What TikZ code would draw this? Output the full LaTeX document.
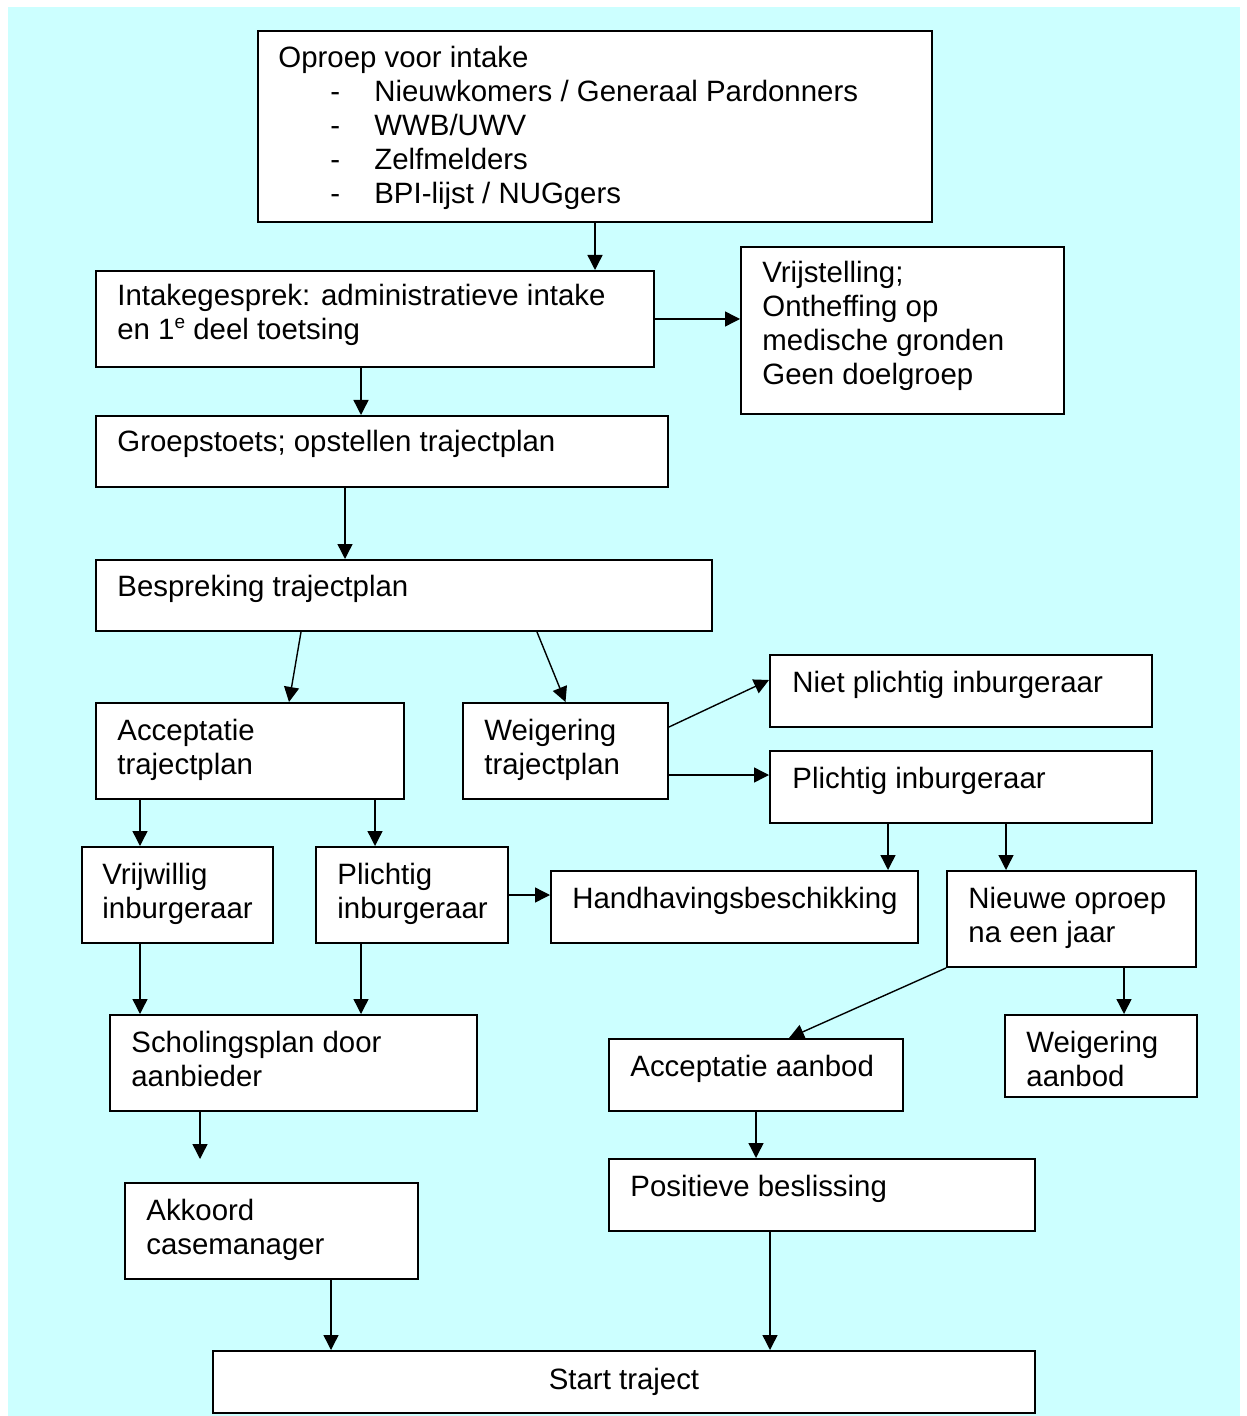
\documentclass[tikz,border=0pt]{standalone}
\usepackage{fontspec}
\setmainfont{Liberation Sans}
\usetikzlibrary{arrows.meta,fit}
\definecolor{sheet}{RGB}{204,255,255}
% multi-line text whose reference point is the baseline of the first line
\newcommand\ml[1]{\vtop{\baselineskip=17pt\lineskiplimit=-10pt #1}}
% an indented list line with a dash
\newcommand\dashline[1]{\hbox{\hspace*{26pt}\makebox[22pt][l]{-}#1}}
% raised ordinal suffix
\newcommand\ord[1]{\raisebox{5.5pt}{\fontsize{9.5}{10}\selectfont #1}}
\begin{document}
\begin{tikzpicture}[x=0.5pt,y=-0.5pt,
  stepbox/.style={draw=black,line width=1pt,fill=white,inner sep=0pt},
  txt/.style={anchor=base west,inner sep=0pt,font=\fontsize{14.7}{17}\selectfont},
  arr/.style={line width=0.7pt,-{Triangle[length=7.5pt,width=7.5pt]}}]
% page and coloured sheet
\useasboundingbox[fill=white] (0,0) rectangle (1246,1416);
\fill[sheet] (8,7) rectangle (1240,1416);

% boxes
\node[stepbox,fit={(258,31) (932,222)}] (oproep) {};
\node[stepbox,fit={(96,271) (654,367)}] (intake) {};
\node[stepbox,fit={(741,247) (1064,414)}] (vrij) {};
\node[stepbox,fit={(96,416) (668,487)}] (groeps) {};
\node[stepbox,fit={(96,560) (712,631)}] (bespr) {};
\node[stepbox,fit={(96,703) (404,799)}] (accT) {};
\node[stepbox,fit={(463,703) (668,799)}] (weigT) {};
\node[stepbox,fit={(770,655) (1152,727)}] (niet) {};
\node[stepbox,fit={(770,751) (1152,823)}] (plichtR) {};
\node[stepbox,fit={(82,847) (273,943)}] (vrijw) {};
\node[stepbox,fit={(316,847) (508,943)}] (plichtL) {};
\node[stepbox,fit={(551,871) (918,943)}] (handh) {};
\node[stepbox,fit={(947,871) (1196,967)}] (nieuwe) {};
\node[stepbox,fit={(110,1015) (477,1111)}] (schol) {};
\node[stepbox,fit={(609,1039) (903,1111)}] (accA) {};
\node[stepbox,fit={(1005,1015) (1197,1097)}] (weigA) {};
\node[stepbox,fit={(125,1183) (418,1279)}] (akk) {};
\node[stepbox,fit={(609,1159) (1035,1231)}] (posB) {};
\node[stepbox,fit={(213,1351) (1035,1413)}] (start) {};

% texts
\node[txt] (oproep-t) at (278,68) {\ml{\hbox{Oproep voor intake}
  \dashline{Nieuwkomers / Generaal Pardonners}
  \dashline{WWB/UWV}
  \dashline{Zelfmelders}
  \dashline{BPI-lijst / NUGgers}}};
\node[txt] (intake-t) at (117,306) {\ml{\hbox{Intakegesprek: administratieve intake}\hbox{en 1\ord{e} deel toetsing}}};
\node[txt] (vrij-t) at (762,283) {\ml{\hbox{Vrijstelling;}\hbox{Ontheffing op}\hbox{medische gronden}\hbox{Geen doelgroep}}};
\node[txt] (groeps-t) at (117,452) {Groepstoets; opstellen trajectplan};
\node[txt] (bespr-t) at (117,596) {Bespreking trajectplan};
\node[txt] (accT-t) at (117,740) {\ml{\hbox{Acceptatie}\hbox{trajectplan}}};
\node[txt] (weigT-t) at (484,740) {\ml{\hbox{Weigering}\hbox{trajectplan}}};
\node[txt] (niet-t) at (792,692) {Niet plichtig inburgeraar};
\node[txt] (plichtR-t) at (792,788) {Plichtig inburgeraar};
\node[txt] (vrijw-t) at (102,884) {\ml{\hbox{Vrijwillig}\hbox{inburgeraar}}};
\node[txt] (plichtL-t) at (337,884) {\ml{\hbox{Plichtig}\hbox{inburgeraar}}};
\node[txt] (handh-t) at (572,908) {Handhavingsbeschikking};
\node[txt] (nieuwe-t) at (968,908) {\ml{\hbox{Nieuwe oproep}\hbox{na een jaar}}};
\node[txt] (schol-t) at (131,1052) {\ml{\hbox{Scholingsplan door}\hbox{aanbieder}}};
\node[txt] (accA-t) at (630,1076) {Acceptatie aanbod};
\node[txt] (weigA-t) at (1026,1052) {\ml{\hbox{Weigering}\hbox{aanbod}}};
\node[txt] (akk-t) at (146,1220) {\ml{\hbox{Akkoord}\hbox{casemanager}}};
\node[txt] (posB-t) at (630,1196) {Positieve beslissing};
\node[txt,anchor=base] (start-t) at (624,1389) {Start traject};

% connectors
\draw[arr] (oproep.south) -- (oproep.south |- intake.north);
\draw[arr] (intake.east) -- (intake.east -| vrij.west);
\draw[arr] ([xshift=-7pt]intake.south) coordinate (i1) -- (i1 |- groeps.north);
\draw[arr] ([xshift=-18.5pt]groeps.south) coordinate (g1) -- (g1 |- bespr.north);
\draw[arr] ([xshift=-51.5pt]bespr.south) -- ([xshift=19.5pt]accT.north);
\draw[arr] ([xshift=66.5pt]bespr.south) -- (weigT.north);
\draw[arr] ([yshift=12pt]weigT.east) -- ([yshift=5.5pt]niet.west);
\draw[arr] ([yshift=-12pt]weigT.east) coordinate (w1) -- (w1 -| plichtR.west);
\draw[arr] ([xshift=-55pt]accT.south) coordinate (a1) -- (a1 |- vrijw.north);
\draw[arr] ([xshift=62.5pt]accT.south) coordinate (a2) -- (a2 |- plichtL.north);
\draw[arr] ([xshift=-36.5pt]plichtR.south) coordinate (p1) -- (p1 |- handh.north);
\draw[arr] ([xshift=22.5pt]plichtR.south) coordinate (p2) -- (p2 |- nieuwe.north);
\draw[arr] (plichtL.east) -- (plichtL.east -| handh.west);
\draw[arr] ([xshift=-18.75pt]vrijw.south) coordinate (v1) -- (v1 |- schol.north);
\draw[arr] ([xshift=-25.5pt]plichtL.south) coordinate (p3) -- (p3 |- schol.north);
\draw[arr] (nieuwe.south west) -- ([xshift=16.5pt]accA.north);
\draw[arr] ([xshift=26.25pt]nieuwe.south) coordinate (n1) -- (n1 |- weigA.north);
\coordinate (scholend) at (200,1159);
\draw[arr] (scholend |- schol.south) -- (scholend);
\draw[arr] (accA.south) -- (accA.south |- posB.north);
\draw[arr] ([xshift=29.75pt]akk.south) coordinate (k1) -- (k1 |- start.north);
\draw[arr] ([xshift=-26pt]posB.south) coordinate (b1) -- (b1 |- start.north);
\end{tikzpicture}
\end{document}
